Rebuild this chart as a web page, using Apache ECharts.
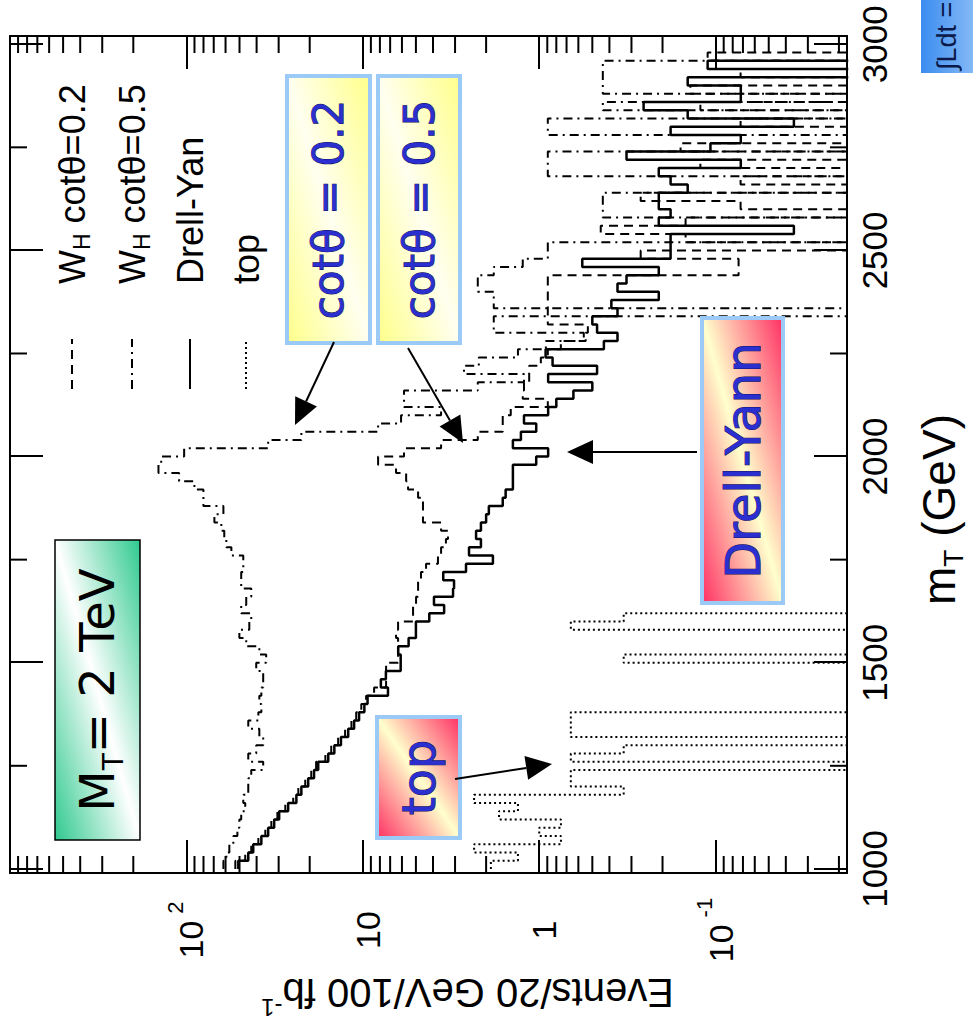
<!DOCTYPE html>
<html>
<head>
<meta charset="utf-8">
<title>W_H transverse mass, M_T = 2 TeV</title>
<script src="https://cdn.jsdelivr.net/npm/echarts@6.0.0/dist/echarts.min.js"></script>
<style>
  html, body { margin: 0; padding: 0; background: #fff; overflow: hidden; }
  #stage { position: absolute; left: 0; top: 0; width: 973px; height: 1028px; overflow: hidden; }
  /* the plot is laid out landscape and turned a quarter turn counter-clockwise */
  #chart { position: absolute; left: 0; top: 0; width: 1028px; height: 973px;
           transform-origin: 0 0; transform: translateY(1028px) rotate(-90deg); }
</style>
</head>
<body>
<div id="stage"><div id="chart"></div></div>
<script>
// ---- histogram binning (GeV) ----
const binStart = 1000;
const binWidth = 20;

// ---- events per 20 GeV bin, 1000-3000 GeV ----
const drellYan = [
  50.8, 44.6, 41.8, 37.6, 34.4, 31.8, 29.8, 26.5, 23.8, 22.3,
  20.4, 18.9, 17.9, 15.7, 14.5, 13.3, 12.1, 11.2, 10.5, 9.8,
  9.4, 7.2, 7.9, 7.4, 6.1, 6.1, 6.3, 5.5, 5.0, 5.0,
  4.2, 3.46, 3.95, 3.08, 3.04, 3.5, 2.6, 1.83, 2.5, 2.14,
  2.28, 2.14, 2.0, 1.93, 1.61, 1.55, 1.41, 1.41, 1.41, 1.04,
  0.89, 1.41, 1.27, 1.04, 1.22, 0.89, 0.80, 0.64, 0.50, 0.89,
  0.47, 0.84, 0.92, 0.43, 0.36, 0.47, 0.50, 0.36, 0.39, 0.21,
  0.36, 0.32, 0.21, 0.57, 0.18, 0.18, 0.18, 0.036, 0.21, 0.18,
  0.21, 0.21, 0.144, 0.18, 0.21, 0.072, 0.32, 0.107, 0.072, 0.18,
  0.036, 0.144, 0.256, 0.072, 0.072, 0.144, 0, 0.111, 0, 0
];

const whCot02 = [
  52.8, 46.4, 42.9, 39.1, 35.7, 33.0, 30.5, 27.5, 24.8, 23.2,
  21.2, 19.6, 18.4, 16.3, 15.1, 13.8, 12.6, 11.6, 10.9, 10.2,
  9.58, 8.63, 7.38, 7.38, 7.38, 6.31, 6.31, 6.31, 6.48, 6.31,
  5.19, 5.19, 4.99, 4.86, 4.86, 4.68, 4.38, 3.75, 3.60, 3.38,
  3.29, 3.60, 4.56, 4.56, 4.56, 4.86, 5.54, 5.68, 6.48, 8.19,
  5.84, 3.60, 2.23, 1.61, 1.61, 1.45, 0.894, 1.24, 1.22, 1.14,
  1.14, 0.979, 0.894, 0.754, 0.545, 0.530, 0.894, 0.894, 0.894, 0.894,
  0.894, 0.894, 0.0741, 0.0741, 0.266, 0, 0.148, 0.448, 0.148, 0,
  0.0722, 0.266, 0, 0.0722, 0, 0.122, 0, 0.158, 0, 0,
  0.0722, 0, 0.122, 0, 0.139, 0, 0.0722, 0, 0.111, 0
];

const whCot05 = [
  61.7, 59.4, 57.1, 54.2, 51.4, 50.1, 48.9, 46.4, 47.6, 44.6,
  44.6, 42.9, 36.7, 44.6, 40.2, 36.7, 38.6, 44.6, 39.1, 37.6,
  38.6, 37.6, 36.7, 36.7, 40.2, 35.3, 38.6, 45.8, 50.1, 44.0,
  42.9, 48.9, 45.8, 42.9, 48.9, 48.9, 47.6, 47.6, 55.6, 59.4,
  61.0, 63.4, 69.4, 61.7, 80.1, 80.1, 90.1, 110, 144, 139,
  103, 34.4, 22.3, 8.19, 6.07, 3.60, 5.84, 5.84, 2.23, 1.22,
  2.67, 2.20, 1.32, 0.917, 0.559, 1.81, 1.81, 0, 1.81, 1.81,
  2.23, 2.23, 1.81, 1.24, 0.894, 0.894, 0, 0, 0, 0.436,
  0.436, 0.436, 0, 0, 0.894, 0.894, 0.894, 0, 0, 0.894,
  0.894, 0, 0.436, 0, 0.436, 0.436, 0.436, 0.436, 0, 0
];

const topPair = [
  1.88, 1.32, 2.34, 0.753, 1.0, 0.753, 1.69, 1.32, 2.34, 0.332,
  0.662, 0.662, 0, 0.662, 0.332, 0, 0.662, 0.662, 0.662, 0,
  0, 0, 0, 0, 0, 0.332, 0, 0, 0, 0.662,
  0.332, 0, 0, 0, 0, 0, 0, 0, 0, 0,
  0, 0, 0, 0, 0, 0, 0, 0, 0, 0,
  0, 0, 0, 0, 0, 0, 0, 0, 0, 0,
  0, 0, 0, 0, 0, 0, 0, 0, 0, 0,
  0, 0, 0, 0, 0, 0, 0, 0, 0, 0,
  0, 0, 0, 0, 0, 0, 0, 0, 0, 0,
  0, 0, 0, 0, 0, 0, 0, 0, 0, 0
];

// ---- axis ticks ----
const massMajorTicks = [1000, 1500, 2000, 2500, 3000];
const massMinorTicks = [1250, 1750, 2250, 2750];
const eventMinorTicks = [
  0.02, 0.03, 0.04, 0.05, 0.06, 0.07, 0.08, 0.09,
  0.2, 0.3, 0.4, 0.5, 0.6, 0.7, 0.8, 0.9,
  2, 3, 4, 5, 6, 7, 8, 9,
  20, 30, 40, 50, 60, 70, 80, 90,
  200, 300, 400, 500, 600, 700, 800, 900
];

// ---- axis ranges ----
const massMin = 990, massMax = 3020;
const eventsMin = 0.018, eventsMax = 1000;
// empty bins sit below the visible range of the log axis
const EMPTY_BIN = 1e-4;

const FONT_AXIS = '"Liberation Sans", Arial, Helvetica, sans-serif';
const FONT_NOTE = '"DejaVu Sans", "Noto Sans", sans-serif';

function histogram(values) {
  const pts = values.map((v, i) => [binStart + i * binWidth, v > 0 ? v : EMPTY_BIN]);
  const last = values[values.length - 1];
  pts.push([binStart + values.length * binWidth, last > 0 ? last : EMPTY_BIN]);
  return pts;
}

function decadeLabel(v) {
  const e = Math.log10(v);
  const r = Math.round(e);
  if (Math.abs(e - r) > 1e-6) return '';
  if (r === 2) return '{b|10}{p|2}';
  if (r === 1) return '{b|10}';
  if (r === 0) return '{b|1}';
  if (r === -1) return '{b|10}{p|-1}';
  return '';
}

function legendLabel(name) {
  if (name.indexOf('W_H') === 0) return '{a|W}{s|H}{a|' + name.slice(3) + '}';
  return '{a|' + name + '}';
}

function arrow(x1, y1, x2, y2) {
  const ang = Math.atan2(y2 - y1, x2 - x1);
  const L = 26, W = 12;
  const bx = x2 - L * Math.cos(ang), by = y2 - L * Math.sin(ang);
  const nx = -Math.sin(ang), ny = Math.cos(ang);
  return [
    { type: 'line', z: 20, shape: { x1: x1, y1: y1, x2: bx, y2: by },
      style: { stroke: '#000', lineWidth: 2 } },
    { type: 'polygon', z: 20,
      shape: { points: [[x2, y2], [bx + W * nx, by + W * ny], [bx - W * nx, by - W * ny]] },
      style: { fill: '#000' } }
  ];
}

function diagGradient(edge, mid) {
  return new echarts.graphic.LinearGradient(0, 0, 1, 1, [
    { offset: 0, color: edge }, { offset: 0.5, color: mid }, { offset: 1, color: edge }
  ]);
}

function noteBox(x, y, w, h, text, edge, mid, size) {
  return [
    { type: 'rect', z: 15, shape: { x: x, y: y, width: w, height: h },
      style: { fill: diagGradient(edge, mid), stroke: '#9ccaf6', lineWidth: 4 } },
    { type: 'text', z: 16, x: x + w / 2, y: y + h / 2,
      style: { text: text, font: size + 'px ' + FONT_NOTE, fill: '#2b2fcf',
               stroke: '#101050', lineWidth: 1, align: 'center', verticalAlign: 'middle' } }
  ];
}

const chart = echarts.init(document.getElementById('chart'), null, { renderer: 'svg' });

const tickStyle = { color: '#000', width: 2 };
const lineAxis = { show: true, onZero: false, lineStyle: { color: '#000', width: 2 } };

const graphics = [].concat(
  // M_T box
  [
    { type: 'rect', z: 15, shape: { x: 188, y: 55, width: 300, height: 85 },
      style: { fill: diagGradient('#2fc98f', '#ffffff'), stroke: '#000', lineWidth: 1.5 } },
    { type: 'text', z: 16, x: 338, y: 97,
      style: { text: '{a|M}{s|T}{a|= 2 TeV}', align: 'center', verticalAlign: 'middle',
               rich: { a: { font: '48px ' + FONT_NOTE, fill: '#000', lineHeight: 60, verticalAlign: 'middle' },
                       s: { font: '28px ' + FONT_NOTE, fill: '#000', lineHeight: 60, verticalAlign: 'bottom' } } } }
  ],
  noteBox(685, 287, 267, 83, 'cotθ = 0.2', '#ffff8a', '#fffff0', 42),
  noteBox(685, 378, 267, 82, 'cotθ = 0.5', '#ffff8a', '#fffff0', 42),
  noteBox(425, 702, 285, 81, 'Drell-Yann', '#ff2f63', '#ffffcc', 48),
  noteBox(190, 377, 121, 83, 'top', '#ff2f63', '#ffffcc', 46),
  arrow(686, 334, 603, 295),
  arrow(680, 408, 585, 463),
  arrow(576, 697, 576, 567),
  arrow(249, 455, 264, 552),
  // luminosity box at the corner
  [
    { type: 'rect', z: 15, shape: { x: 955, y: 921, width: 300, height: 150 },
      style: { fill: new echarts.graphic.LinearGradient(0, 0, 0, 1, [
                 { offset: 0, color: '#3b8df0' }, { offset: 0.6, color: '#b9d8fb' }, { offset: 1, color: '#e8f2ff' }]) } },
    { type: 'text', z: 16, x: 958, y: 947,
      style: { text: '∫Ldt =', font: '27px ' + FONT_AXIS, fill: '#0b1a4a',
               align: 'left', verticalAlign: 'middle' } }
  ]
);

const option = {
  animation: false,
  backgroundColor: '#fff',
  grid: { left: 155, right: 36, top: 10, bottom: 126, containLabel: false, outerBoundsMode: 'none' },
  legend: {
    orient: 'vertical', left: 633, top: 46,
    itemWidth: 50, itemHeight: 20, itemGap: 18,
    selectedMode: false,
    itemStyle: { opacity: 0 },
    data: ['W_H cotθ=0.2', 'W_H cotθ=0.5', 'Drell-Yan', 'top'],
    formatter: legendLabel,
    textStyle: {
      color: '#000', fontFamily: FONT_AXIS, fontSize: 36, lineHeight: 38, padding: [0, 0, 0, 50],
      rich: {
        a: { fontFamily: FONT_AXIS, fontSize: 36, color: '#000', lineHeight: 38, verticalAlign: 'middle' },
        s: { fontFamily: FONT_AXIS, fontSize: 23, color: '#000', lineHeight: 42, verticalAlign: 'bottom' }
      }
    }
  },
  xAxis: [
    {
      type: 'value', position: 'bottom', min: massMin, max: massMax,
      axisLine: lineAxis, splitLine: { show: false },
      axisTick: { inside: true, length: 33, lineStyle: tickStyle, customValues: massMajorTicks },
      axisLabel: { customValues: massMajorTicks, margin: 10, color: '#000',
                   fontFamily: FONT_AXIS, fontSize: 35, formatter: v => String(v) },
      name: '{a|m}{s|T}{a| (GeV)}', nameLocation: 'middle', nameGap: 64,
      nameTextStyle: {
        padding: [0, 110, 0, 0],
        rich: {
          a: { fontFamily: FONT_AXIS, fontSize: 46, color: '#000', lineHeight: 56, verticalAlign: 'middle' },
          s: { fontFamily: FONT_AXIS, fontSize: 28, color: '#000', lineHeight: 56, verticalAlign: 'bottom' }
        }
      }
    },
    {
      type: 'value', position: 'top', min: massMin, max: massMax,
      axisLine: lineAxis, splitLine: { show: false },
      axisTick: { inside: true, length: 33, lineStyle: tickStyle, customValues: massMajorTicks },
      axisLabel: { show: false }
    }
  ],
  yAxis: [
    {
      type: 'log', logBase: 10, position: 'left', min: eventsMin, max: eventsMax,
      axisLine: lineAxis, splitLine: { show: false },
      axisTick: { inside: true, length: 33, lineStyle: tickStyle },
      axisLabel: {
        margin: 57, align: 'center', color: '#000', formatter: decadeLabel,
        rich: {
          b: { fontFamily: FONT_AXIS, fontSize: 34, color: '#000', lineHeight: 44, verticalAlign: 'bottom' },
          p: { fontFamily: FONT_AXIS, fontSize: 22, color: '#000', lineHeight: 44, verticalAlign: 'top', padding: [0, 0, 0, 7] }
        }
      },
      name: '{a|Events/20 GeV/100 fb}{p|-1}', nameLocation: 'middle', nameRotate: 90, nameGap: 88,
      nameTextStyle: {
        padding: [0, 78, 0, 0],
        rich: {
          a: { fontFamily: FONT_AXIS, fontSize: 40, color: '#000', lineHeight: 46, verticalAlign: 'bottom' },
          p: { fontFamily: FONT_AXIS, fontSize: 24, color: '#000', lineHeight: 46, verticalAlign: 'top' }
        }
      }
    },
    {
      type: 'log', logBase: 10, position: 'right', min: eventsMin, max: eventsMax,
      axisLine: lineAxis, splitLine: { show: false },
      axisTick: { inside: true, length: 33, lineStyle: tickStyle },
      axisLabel: { show: false }
    }
  ],
  series: [
    {
      type: 'line', name: 'W_H cotθ=0.2', data: histogram(whCot02), step: 'end',
      symbol: 'none', clip: true, z: 3,
      lineStyle: { color: '#000', width: 2, type: [9, 6] }
    },
    {
      type: 'line', name: 'W_H cotθ=0.5', data: histogram(whCot05), step: 'end',
      symbol: 'none', clip: true, z: 3,
      lineStyle: { color: '#000', width: 2, type: [9, 5, 2, 5] }
    },
    {
      type: 'line', name: 'Drell-Yan', data: histogram(drellYan), step: 'end',
      symbol: 'none', clip: true, z: 4,
      lineStyle: { color: '#000', width: 2.5, type: 'solid' }
    },
    {
      type: 'line', name: 'top', data: histogram(topPair), step: 'end',
      symbol: 'none', clip: true, z: 3,
      lineStyle: { color: '#000', width: 2, type: [2, 3] }
    },
    {
      // minor ticks of the mass axis, on both long edges of the frame
      type: 'custom', coordinateSystem: 'cartesian2d', silent: true, z: 6,
      data: massMinorTicks.map(m => [m, 1]),
      renderItem: function (params, api) {
        const x = api.coord([api.value(0), 1])[0];
        const cs = params.coordSys;
        const st = { stroke: '#000', lineWidth: 2 };
        return { type: 'group', children: [
          { type: 'line', shape: { x1: x, y1: cs.y + cs.height, x2: x, y2: cs.y + cs.height - 17 }, style: st },
          { type: 'line', shape: { x1: x, y1: cs.y, x2: x, y2: cs.y + 17 }, style: st }
        ] };
      }
    },
    {
      // minor ticks of the log axis, on both short edges of the frame
      type: 'custom', coordinateSystem: 'cartesian2d', silent: true, z: 6,
      data: eventMinorTicks.map(v => [2000, v]),
      renderItem: function (params, api) {
        const y = api.coord([2000, api.value(1)])[1];
        const cs = params.coordSys;
        const st = { stroke: '#000', lineWidth: 2 };
        return { type: 'group', children: [
          { type: 'line', shape: { x1: cs.x, y1: y, x2: cs.x + 17, y2: y }, style: st },
          { type: 'line', shape: { x1: cs.x + cs.width, y1: y, x2: cs.x + cs.width - 17, y2: y }, style: st }
        ] };
      }
    }
  ],
  graphic: graphics
};

chart.setOption(option);
</script>
</body>
</html>
